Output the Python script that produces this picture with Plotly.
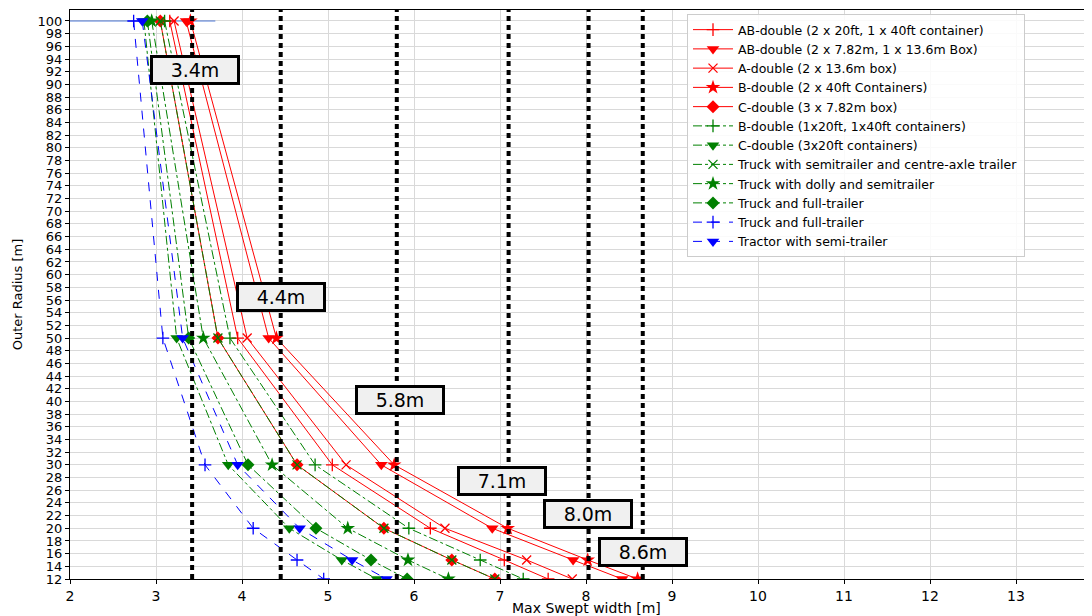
import plotly.graph_objects as go

radius = [100, 50, 30, 20, 15, 12]

names = [
    "AB-double (2 x 20ft, 1 x 40ft container)",
    "AB-double (2 x 7.82m, 1 x 13.6m Box)",
    "A-double (2 x 13.6m box)",
    "B-double (2 x 40ft Containers)",
    "C-double (3 x 7.82m box)",
    "B-double (1x20ft, 1x40ft containers)",
    "C-double (3x20ft containers)",
    "Truck with semitrailer and centre-axle trailer",
    "Truck with dolly and semitrailer",
    "Truck and full-trailer",
    "Truck and full-trailer",
    "Tractor with semi-trailer",
]

ab_double_20_40 = [3.16, 3.95, 5.05, 6.19, 7.05, 7.56]
ab_double_782_136 = [3.35, 4.31, 5.62, 6.91, 7.85, 8.42]
a_double_136 = [3.21, 4.06, 5.21, 6.36, 7.31, 7.84]
b_double_40 = [3.40, 4.40, 5.77, 7.09, 8.02, 8.60]
c_double_782 = [3.05, 3.72, 4.64, 5.65, 6.44, 6.94]
b_double_20_40 = [3.10, 3.86, 4.85, 5.94, 6.77, 7.27]
c_double_20 = [2.86, 3.24, 3.84, 4.55, 5.16, 5.57]
truck_semi_centre = [3.05, 3.72, 4.64, 5.65, 6.44, 6.94]
truck_dolly_semi = [2.95, 3.55, 4.35, 5.23, 5.93, 6.40]
truck_full_green = [2.90, 3.38, 4.07, 4.86, 5.50, 5.92]
truck_full_blue = [2.74, 3.08, 3.57, 4.13, 4.64, 4.95]
tractor_semi = [2.84, 3.31, 3.95, 4.67, 5.28, 5.68]

series = [ab_double_20_40, ab_double_782_136, a_double_136, b_double_40, c_double_782,
          b_double_20_40, c_double_20, truck_semi_centre, truck_dolly_semi, truck_full_green,
          truck_full_blue, tractor_semi]

limit_x = [3.42, 4.45, 5.80, 7.10, 8.03, 8.66]
limit_labels = ["3.4m", "4.4m", "5.8m", "7.1m", "8.0m", "8.6m"]
label_pos_x = [3.453, 4.453, 5.837, 7.023, 8.023, 8.663]
label_pos_y = [92.3, 56.5, 40.2, 27.5, 22.25, 16.3]

ref_line_x = [2.0, 3.69]
ref_line_y = [100, 100]

colors = ["red"] * 5 + ["green"] * 5 + ["blue"] * 2
dashes = ["solid"] * 5 + ["dashdot"] * 5 + ["dash"] * 2
symbols = ["cross-thin", "triangle-down", "x-thin", "star", "diamond",
           "cross-thin", "triangle-down", "x-thin", "star", "diamond",
           "cross-thin", "triangle-down"]
sizes = [9, 11, 9, 11, 10, 9, 11, 9, 11, 10, 9, 11]

# page body has an 8px margin in the browser; compensate
OFF = 8
PL, PT, PW, PH = 70, 10, 1022, 569  # plot area in window pixels

fig = go.Figure()

fig.add_trace(go.Scatter(x=ref_line_x, y=ref_line_y, mode="lines",
                         line=dict(color="#4a76d4", width=1), showlegend=False,
                         hoverinfo="skip"))

for name, xs, c, d, s, sz in zip(names, series, colors, dashes, symbols, sizes):
    thin = s.endswith("-thin")
    fig.add_trace(go.Scatter(
        x=xs, y=radius, name=name, mode="lines+markers",
        line=dict(color=c, width=1, dash=d),
        marker=dict(symbol=s, size=sz, color=c,
                    line=dict(color=c, width=1.3 if thin else 0)),
    ))

for lx in limit_x:
    fig.add_shape(type="line", x0=lx, x1=lx, y0=0, y1=1, xref="x", yref="paper",
                  line=dict(color="black", width=4, dash="5px,4px"))

for t, ax_, ay_ in zip(limit_labels, label_pos_x, label_pos_y):
    fig.add_annotation(x=ax_, y=ay_, text=t, showarrow=False,
                       font=dict(family="DejaVu Sans", size=19, color="black"),
                       bgcolor="#f0f0f0", bordercolor="black", borderwidth=3,
                       borderpad=1, width=82, height=22)

fig.add_annotation(x=(586 - PL) / PW, y=-(608 - (PT + PH)) / PH, xref="paper", yref="paper",
                   text="Max Swept width [m]", showarrow=False,
                   font=dict(family="DejaVu Sans", size=14, color="black"),
                   yanchor="middle", xanchor="center")

fig.update_layout(
    width=1092 - OFF, height=616 - OFF,
    margin=dict(l=PL - OFF, r=0, t=PT - OFF, b=(616 - OFF) - (PT + PH - OFF)),
    paper_bgcolor="white", plot_bgcolor="white",
    font=dict(family="DejaVu Sans", size=13, color="black"),
    legend=dict(x=(687 - PL) / PW, y=(PT + PH - 14) / PH, xanchor="left", yanchor="top",
                bgcolor="rgba(255,255,255,0.85)", bordercolor="#cccccc", borderwidth=1,
                font=dict(family="DejaVu Sans", size=12.5), tracegroupgap=0,
                itemwidth=40, entrywidth=420),
    showlegend=True,
)

fig.update_xaxes(range=[2, 2 + PW / 86], tickmode="array", tickvals=list(range(2, 15)),
                 showgrid=True, gridcolor="#d9d9d9", gridwidth=1,
                 showline=True, linecolor="black", linewidth=1, mirror=True,
                 ticks="outside", ticklen=4, tickcolor="black", zeroline=False,
                 tickfont=dict(size=14))
fig.update_yaxes(range=[12, 12 + PH / 6.341], tickmode="array", tickvals=list(range(12, 101, 2)),
                 showgrid=True, gridcolor="#d9d9d9", gridwidth=1,
                 showline=True, linecolor="black", linewidth=1, mirror=True,
                 ticks="outside", ticklen=4, tickcolor="black", zeroline=False,
                 tickfont=dict(size=13),
                 title=dict(text="Outer Radius [m]", font=dict(size=13), standoff=12))

fig.write_html("out.html")
